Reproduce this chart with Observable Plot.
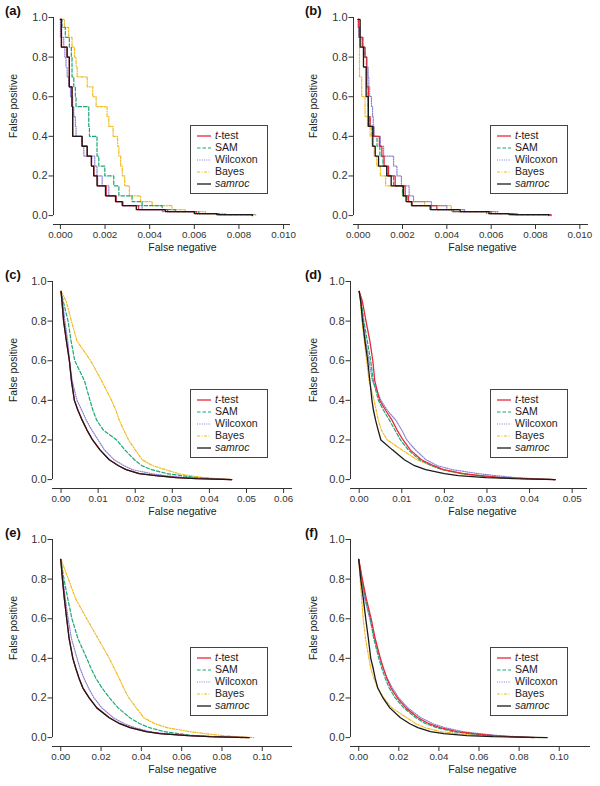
<!DOCTYPE html>
<html><head><meta charset="utf-8">
<script src="https://cdn.jsdelivr.net/npm/d3@7"></script>
<script src="https://cdn.jsdelivr.net/npm/@observablehq/plot@0.6"></script>
<style>
body{margin:0;background:#fff;}
#fig{position:relative;width:600px;height:786px;font-family:'Liberation Sans',Arial,sans-serif;}
.panel{position:absolute;width:300px;height:262px;}
.plabel{position:absolute;left:5px;top:3px;font-weight:bold;font-size:13px;color:#111;}
.legend{position:absolute;left:190px;top:125px;width:78px;height:69px;border:1.3px solid #444;box-sizing:border-box;background:#fff;}
.lrow{position:absolute;left:0;height:12px;width:76px;}
.lrow svg{position:absolute;left:6px;top:3px;}
.lrow span{position:absolute;left:24px;top:-1px;font-size:10.5px;color:#222;line-height:12px;}
</style></head>
<body><div id="fig"></div>
<script>
const methods = ["t-test", "SAM", "Wilcoxon", "Bayes", "samroc"];
const panelLabels = ["(a)", "(b)", "(c)", "(d)", "(e)", "(f)"];
const yTicks = [0, 0.2, 0.4, 0.6, 0.8, 1.0];
const xTicksAB = [0, 0.002, 0.004, 0.006, 0.008, 0.010];
const xTicksC = [0, 0.01, 0.02, 0.03, 0.04, 0.05, 0.06];
const xTicksD = [0, 0.01, 0.02, 0.03, 0.04, 0.05];
const xTicksEF = [0, 0.02, 0.04, 0.06, 0.08, 0.10];

// False-positive levels (shared per panel); each method lists the false-negative value at which it reaches that level
const fpAB = [0.99, 0.95, 0.9, 0.85, 0.8, 0.75, 0.7, 0.65, 0.6, 0.55, 0.5, 0.45, 0.4, 0.35, 0.3, 0.25, 0.2, 0.15, 0.1, 0.07, 0.05, 0.03, 0.02, 0.01, 0.005, 0];
const fpCD = [0.95, 0.9, 0.8, 0.7, 0.6, 0.5, 0.4, 0.35, 0.3, 0.25, 0.2, 0.15, 0.1, 0.07, 0.05, 0.03, 0.02, 0.01, 0.005, 0];
const fpEF = [0.9, 0.8, 0.7, 0.6, 0.5, 0.4, 0.35, 0.3, 0.25, 0.2, 0.15, 0.1, 0.07, 0.05, 0.03, 0.02, 0.01, 0.005, 0];

const A_ttest = [0, 0.000045, 0.000045, 0.000045, 0.0003, 0.0004, 0.0004, 0.0004, 0.00052, 0.00052, 0.00055, 0.00055, 0.00055, 0.00097, 0.0012, 0.00139, 0.0015, 0.00166, 0.00205, 0.0025, 0.0028, 0.0035, 0.0048, 0.0061, 0.0071, 0.0086];
const A_sam = [0.000015, 0.00007, 0.00022, 0.0004, 0.00049, 0.00052, 0.00052, 0.0006, 0.00067, 0.0007, 0.00127, 0.00127, 0.0013, 0.00164, 0.00164, 0.00172, 0.00199, 0.00239, 0.00262, 0.00321, 0.00366, 0.00456, 0.00516, 0.0062, 0.0071, 0.0087];
const A_wilcoxon = [0, 0, 0, 0.00015, 0.0002, 0.00025, 0.0003, 0.00037, 0.00045, 0.00055, 0.0006, 0.00067, 0.0007, 0.00097, 0.00105, 0.00154, 0.00164, 0.00187, 0.00217, 0.00247, 0.00277, 0.00366, 0.00456, 0.006, 0.007, 0.0085];
const A_bayes = [0.00003, 0.00018, 0.00037, 0.00052, 0.00063, 0.0007, 0.00075, 0.0012, 0.00145, 0.0016, 0.00209, 0.00217, 0.00236, 0.00256, 0.00262, 0.0027, 0.00277, 0.00288, 0.00309, 0.00359, 0.00411, 0.005, 0.0056, 0.0065, 0.0074, 0.00875];
const A_samroc = [0, 0.000045, 0.000045, 0.000045, 0.0003, 0.0004, 0.0004, 0.0004, 0.00052, 0.00052, 0.00055, 0.00055, 0.00055, 0.00097, 0.0012, 0.00139, 0.00149, 0.00164, 0.00202, 0.00247, 0.00277, 0.0034, 0.0047, 0.006, 0.007, 0.0086];

const B_ttest = [0, 0.00002, 0.00006, 0.00021, 0.00031, 0.00039, 0.00039, 0.00039, 0.00046, 0.00046, 0.00046, 0.00054, 0.00069, 0.00096, 0.00107, 0.00117, 0.00137, 0.00167, 0.00212, 0.00227, 0.00242, 0.00355, 0.0043, 0.006, 0.007, 0.0087];
const B_sam = [0, 0.00002, 0.00006, 0.0002, 0.0003, 0.00037, 0.00038, 0.00038, 0.00045, 0.00045, 0.00046, 0.00052, 0.00062, 0.00085, 0.00098, 0.00112, 0.0013, 0.0016, 0.002, 0.0022, 0.0024, 0.0033, 0.0042, 0.0058, 0.0069, 0.0086];
const B_wilcoxon = [0, 0.00001, 0.00002, 0.00017, 0.00024, 0.00038, 0.00045, 0.00048, 0.00052, 0.0006, 0.00065, 0.00068, 0.00072, 0.001, 0.00115, 0.0016, 0.00175, 0.00195, 0.0023, 0.0025, 0.0033, 0.004, 0.0048, 0.0063, 0.0072, 0.0087];
const B_bayes = [0, 0, 0.00003, 0.00006, 0.00006, 0.00006, 0.00006, 0.00016, 0.00016, 0.00031, 0.00031, 0.00042, 0.00054, 0.00062, 0.00072, 0.00084, 0.001, 0.00124, 0.002, 0.0022, 0.003, 0.0042, 0.0048, 0.0062, 0.0071, 0.0085];
const B_samroc = [0, 0.00009, 0.00009, 0.00009, 0.00024, 0.00024, 0.00036, 0.00036, 0.00036, 0.00046, 0.00046, 0.00046, 0.00066, 0.00066, 0.00077, 0.00092, 0.00129, 0.00149, 0.00204, 0.00216, 0.00242, 0.00325, 0.0046, 0.0059, 0.0068, 0.0086];

const C_ttest = [0, 0.00025, 0.0007, 0.00145, 0.00225, 0.0028, 0.0036, 0.00455, 0.0057, 0.007, 0.0085, 0.0105, 0.013, 0.0155, 0.0176, 0.0212, 0.0257, 0.0312, 0.0366, 0.046];
const C_sam = [0, 0.0006, 0.0019, 0.0027, 0.0037, 0.0063, 0.0078, 0.0086, 0.0096, 0.0114, 0.015, 0.0172, 0.0198, 0.0218, 0.0244, 0.0286, 0.0324, 0.0367, 0.0405, 0.046];
const C_wilcoxon = [0, 0.0004, 0.00105, 0.0018, 0.0023, 0.003, 0.0043, 0.0056, 0.0068, 0.0083, 0.01, 0.0117, 0.0143, 0.017, 0.0193, 0.0243, 0.028, 0.0338, 0.04, 0.046];
const C_bayes = [0.00005, 0.0014, 0.0028, 0.0043, 0.008, 0.0109, 0.0136, 0.0148, 0.0157, 0.0169, 0.0182, 0.02, 0.0219, 0.0247, 0.0282, 0.0317, 0.0348, 0.0385, 0.042, 0.046];
const C_samroc = [0, 0.00025, 0.0007, 0.00145, 0.00225, 0.0028, 0.0036, 0.00455, 0.0057, 0.007, 0.0085, 0.0105, 0.013, 0.0155, 0.0175, 0.021, 0.0255, 0.031, 0.0365, 0.046];

const D_ttest = [0, 0.00075, 0.0016, 0.0025, 0.0032, 0.00365, 0.0048, 0.0062, 0.0077, 0.0089, 0.0103, 0.012, 0.0146, 0.0175, 0.0198, 0.0245, 0.0285, 0.0335, 0.0392, 0.046];
const D_sam = [0, 0.0005, 0.0011, 0.0019, 0.0027, 0.0033, 0.0045, 0.0057, 0.0071, 0.0084, 0.0097, 0.0115, 0.0142, 0.017, 0.0195, 0.024, 0.028, 0.033, 0.0385, 0.046];
const D_wilcoxon = [0, 0.0004, 0.00095, 0.00155, 0.0023, 0.0031, 0.0051, 0.0066, 0.0086, 0.01, 0.0112, 0.0132, 0.0157, 0.0184, 0.0219, 0.028, 0.032, 0.0368, 0.041, 0.046];
const D_bayes = [0, 0.0003, 0.00065, 0.0012, 0.00175, 0.0023, 0.0035, 0.004, 0.0045, 0.0052, 0.0066, 0.01, 0.0136, 0.017, 0.0195, 0.0238, 0.0282, 0.033, 0.038, 0.046];
const D_samroc = [0, 0.00035, 0.0008, 0.00135, 0.002, 0.0025, 0.003, 0.00335, 0.00385, 0.00445, 0.0051, 0.0078, 0.0106, 0.013, 0.0156, 0.02, 0.0233, 0.0298, 0.0365, 0.046];

const E_ttest = [0, 0.00083, 0.0018, 0.00295, 0.00415, 0.006, 0.00745, 0.00905, 0.011, 0.0141, 0.0179, 0.0242, 0.0295, 0.0346, 0.0426, 0.0495, 0.0635, 0.0745, 0.0935];
const E_sam = [0, 0.0016, 0.0035, 0.00555, 0.0085, 0.0129, 0.015, 0.0174, 0.0205, 0.0242, 0.0285, 0.0343, 0.0393, 0.044, 0.0513, 0.0582, 0.0664, 0.074, 0.09];
const E_wilcoxon = [0, 0.0011, 0.0023, 0.00365, 0.0053, 0.0081, 0.00955, 0.0115, 0.0138, 0.0165, 0.0204, 0.0261, 0.0315, 0.0368, 0.044, 0.0515, 0.065, 0.076, 0.09];
const E_bayes = [0.0001, 0.0038, 0.0074, 0.0129, 0.0185, 0.0241, 0.0265, 0.029, 0.0312, 0.0338, 0.0375, 0.0412, 0.0466, 0.0528, 0.064, 0.0715, 0.0805, 0.087, 0.096];
const E_samroc = [0, 0.00083, 0.0018, 0.00295, 0.00415, 0.006, 0.00745, 0.00905, 0.011, 0.0141, 0.0179, 0.024, 0.0292, 0.0343, 0.0423, 0.049, 0.063, 0.074, 0.0935];

const F_ttest = [0, 0.0018, 0.0038, 0.0062, 0.0082, 0.0108, 0.0123, 0.014, 0.0161, 0.0193, 0.0235, 0.0296, 0.035, 0.0406, 0.049, 0.0574, 0.0674, 0.0757, 0.0874];
const F_sam = [0, 0.0016, 0.0034, 0.0058, 0.0075, 0.01, 0.0115, 0.0132, 0.0152, 0.0182, 0.0225, 0.0285, 0.0335, 0.039, 0.047, 0.055, 0.066, 0.075, 0.087];
const F_wilcoxon = [0, 0.0015, 0.003, 0.0055, 0.0078, 0.0105, 0.0122, 0.0142, 0.0168, 0.02, 0.0245, 0.031, 0.037, 0.043, 0.052, 0.06, 0.07, 0.078, 0.088];
const F_bayes = [0, 0.0007, 0.0015, 0.0022, 0.0034, 0.0051, 0.006, 0.0075, 0.0095, 0.0125, 0.0165, 0.024, 0.0285, 0.033, 0.041, 0.049, 0.061, 0.073, 0.09];
const F_samroc = [0, 0.001, 0.0023, 0.0035, 0.0048, 0.006, 0.0072, 0.0082, 0.0095, 0.0121, 0.0155, 0.0208, 0.0255, 0.0295, 0.0358, 0.0424, 0.054, 0.067, 0.094];

const styles = {
  "t-test":  {stroke: "#e8283a", dash: null, width: 1.3},
  "SAM":     {stroke: "#1aa873", dash: "3.5,2", width: 1.2},
  "Wilcoxon":{stroke: "#8a7fd2", dash: "1,1.3", width: 1.2},
  "Bayes":   {stroke: "#f3ba1e", dash: "3,1.5,1,1.5", width: 1.2},
  "samroc":  {stroke: "#1a1a1a", dash: null, width: 1.3}
};
const drawOrder = ["Bayes", "Wilcoxon", "SAM", "t-test", "samroc"];

const panels = [
  {fp: fpAB, data: [A_ttest, A_sam, A_wilcoxon, A_bayes, A_samroc], step: true, ticks: xTicksAB, fmt: ".3f", dom: [-0.00031, 0.01031], ml: 53, mr: 10, left: 0, top: 0},
  {fp: fpAB, data: [B_ttest, B_sam, B_wilcoxon, B_bayes, B_samroc], step: true, ticks: xTicksAB, fmt: ".3f", dom: [-0.00021, 0.01039], ml: 53, mr: 12, left: 300, top: 0},
  {fp: fpCD, data: [C_ttest, C_sam, C_wilcoxon, C_bayes, C_samroc], step: false, ticks: xTicksC, fmt: ".2f", dom: [-0.0023, 0.0624], ml: 52, mr: 8, left: 0, top: 264},
  {fp: fpCD, data: [D_ttest, D_sam, D_wilcoxon, D_bayes, D_samroc], step: false, ticks: xTicksD, fmt: ".2f", dom: [-0.00204, 0.0536], ml: 50, mr: 13, left: 300, top: 264},
  {fp: fpEF, data: [E_ttest, E_sam, E_wilcoxon, E_bayes, E_samroc], step: false, ticks: xTicksEF, fmt: ".2f", dom: [-0.0041, 0.115], ml: 52, mr: 8, left: 0, top: 522},
  {fp: fpEF, data: [F_ttest, F_sam, F_wilcoxon, F_bayes, F_samroc], step: false, ticks: xTicksEF, fmt: ".2f", dom: [-0.0041, 0.1156], ml: 50, mr: 10, left: 300, top: 522}
];

const W = 300, H = 262, MT = 15, MB = 38;
const yDom = [-0.045, 1.01];
const fig = document.getElementById("fig");

panels.forEach((p, k) => {
  const rows = [];
  methods.forEach((m, j) => p.data[j].forEach((x, i) => rows.push({method: m, fn: x, fp: p.fp[i]})));
  const marks = [];
  for (const m of drawOrder) {
    const s = styles[m];
    marks.push(Plot.line(rows.filter(r => r.method === m), {
      x: "fn", y: "fp", stroke: s.stroke, strokeWidth: s.width,
      strokeDasharray: s.dash || undefined, curve: p.step ? "step-after" : "linear",
      strokeLinejoin: "miter"
    }));
  }
  const frameCx = (p.ml + (W - p.mr)) / 2;
  const frameCy = (MT + (H - MB)) / 2;
  marks.push(
    Plot.ruleY([yDom[0]], {stroke: "#333", strokeWidth: 1}),
    Plot.ruleX([p.dom[0]], {y1: yTicks[0], y2: yTicks[yTicks.length - 1], stroke: "#333", strokeWidth: 1}),
    Plot.axisX({ticks: p.ticks, tickFormat: d3.format(p.fmt), tickSize: 5, tickPadding: 2, label: null, fontSize: 9.8}),
    Plot.axisY({ticks: yTicks, tickFormat: d3.format(".1f"), tickSize: 4.5, tickPadding: 1.5, label: null, fontSize: 11}),
    Plot.text(["False negative"], {text: d => d, frameAnchor: "bottom", textAnchor: "middle", lineAnchor: "middle", dx: 182 - frameCx, dy: 23, fontSize: 10.5, fill: "#222"}),
    Plot.text(["False positive"], {text: d => d, frameAnchor: "left", textAnchor: "middle", lineAnchor: "middle", rotate: -90, dx: 13.5 - p.ml, dy: 105.5 - frameCy, fontSize: 10.5, fill: "#222"})
  );
  const chart = Plot.plot({
    width: W, height: H, marginLeft: p.ml, marginRight: p.mr, marginTop: MT, marginBottom: MB,
    x: {domain: p.dom}, y: {domain: yDom},
    style: {fontFamily: "'Liberation Sans', Arial, sans-serif", fontSize: "9.8px", color: "#333", background: "transparent", overflow: "visible"},
    marks
  });
  const div = document.createElement("div");
  div.className = "panel";
  div.style.left = p.left + "px";
  div.style.top = p.top + "px";
  div.appendChild(chart);
  const lab = document.createElement("div");
  lab.className = "plabel";
  lab.textContent = panelLabels[k];
  div.appendChild(lab);
  const leg = document.createElement("div");
  leg.className = "legend";
  methods.forEach((m, i) => {
    const s = styles[m];
    const row = document.createElement("div");
    row.className = "lrow";
    row.style.top = (4 + i * 11.9) + "px";
    const name = m === "t-test" ? "<i>t</i>-test" : m === "samroc" ? "<i>samroc</i>" : m;
    row.innerHTML = `<svg width="14" height="6"><line x1="0" x2="14" y1="3" y2="3" stroke="${s.stroke}" stroke-width="${s.width}" ${s.dash ? `stroke-dasharray="${s.dash}"` : ""}/></svg><span>${name}</span>`;
    leg.appendChild(row);
  });
  div.appendChild(leg);
  fig.appendChild(div);
});
</script></body></html>
